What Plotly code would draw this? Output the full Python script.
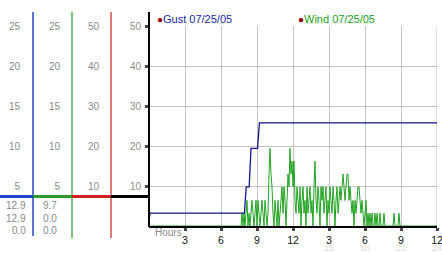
import plotly.graph_objects as go

# ---------------- data ----------------
gust_hours = [0.0, 0.1, 7.95, 8.1, 8.35, 8.5, 9.05, 9.2, 24.0]
gust_mph = [0.8, 1.6, 1.6, 4.9, 4.9, 9.7, 9.7, 12.9, 12.9]

# wind, 5-minute samples over the day (mph)
wind_mph = (
    [0.0] * 92 +
    [0.0, 1.6, 0.0, 1.6, 0.0, 1.6, 3.2, 0.0, 1.6, 0.0,
     1.6, 3.2, 1.6, 0.0, 1.6, 3.2, 0.0, 3.2, 1.6, 0.0,
     1.6, 3.2, 1.6, 0.0, 3.2, 1.6, 0.0, 1.6, 6.5, 9.7,
     6.5, 4.9, 1.6, 0.0, 3.2, 1.6, 0.0, 3.2, 0.0, 1.6,
     3.2, 4.9, 1.6, 4.9, 3.2, 0.0, 3.2, 6.5, 4.9, 9.7,
     6.5, 8.1, 4.9, 8.1, 3.2, 1.6, 4.9, 3.2, 1.6, 4.9,
     0.0, 3.2, 4.9, 1.6, 3.2, 0.0, 4.9, 1.6, 3.2, 4.9,
     1.6, 3.2, 0.0, 4.9, 8.1, 3.2, 1.6, 4.9, 3.2, 0.0,
     4.9, 3.2, 4.9, 1.6, 3.2, 4.9, 0.0, 3.2, 1.6, 4.9,
     3.2, 1.6, 4.9, 3.2, 0.0, 3.2, 4.9, 1.6, 3.2, 4.9,
     3.2, 4.9, 6.5, 4.9, 3.2, 4.9, 6.5, 6.5, 3.2, 4.9,
     3.2, 1.6, 3.2, 0.0, 3.2, 1.6, 3.2, 4.9, 4.9, 3.2,
     1.6, 3.2, 1.6, 0.0, 1.6, 3.2, 0.0, 1.6, 0.0, 1.6,
     0.0, 1.6, 0.0, 0.0, 1.6, 0.0, 1.6, 0.0, 0.0, 1.6,
     0.0, 0.0, 0.0, 1.6, 0.0, 0.0, 0.0, 0.0, 0.0, 0.0,
     0.0, 0.0, 0.0, 1.6, 0.0, 0.0, 0.0, 0.0, 1.6, 0.0] +
    [0.0] * 37
)
wind_hours = [i / 12 for i in range(len(wind_mph))]

hour_ticks = [3, 6, 9, 12, 15, 18, 21, 24]
hour_labels = ["3", "6", "9", "12", "3", "6", "9", "12"]
pm_ticks = [15, 18, 21, 24]
pm_labels = ["15", "18", "21", "24"]

mph_ticks = [5, 10, 15, 20, 25]
dbl_ticks = [10, 20, 30, 40, 50]

gust_stats = ["12.9", "12.9", "0.0"]
wind_stats = ["9.7", "0.0", "0.0"]

gust_label = "Gust 07/25/05"
wind_label = "Wind 07/25/05"

# ---------------- geometry helpers ----------------
W, H = 442, 253
ML, MR, MT, MB = 0, 5, 26, 27
PW = W - ML - MR          # paper width in px
PH = H - MT - MB          # paper height in px
X0 = 149                  # left edge of data area (px)
Y0 = H - MB               # bottom of data area (px)


def px(xp):
    return (xp - ML) / PW


def py(yp):
    return (Y0 - yp) / PH


GRID = "#c4c4c4"
LABEL = "#8a8a8a"
FONT = "Liberation Sans, Arial, sans-serif"

fig = go.Figure()

fig.add_trace(go.Scatter(x=wind_hours, y=wind_mph, mode="lines",
                         line=dict(color="#22a322", width=1, simplify=False),
                         showlegend=False, hoverinfo="skip"))
fig.add_trace(go.Scatter(x=gust_hours, y=gust_mph, mode="lines",
                         line=dict(color="#14148c", width=1.3),
                         showlegend=False, hoverinfo="skip"))

# invisible traces so the extra axes get drawn
for ya in ["y2", "y3", "y4", "y5"]:
    fig.add_trace(go.Scatter(x=[None], y=[None], yaxis=ya, showlegend=False,
                             hoverinfo="skip"))
fig.add_trace(go.Scatter(x=[None], y=[None], xaxis="x2", showlegend=False,
                         hoverinfo="skip"))

side_axis = dict(overlaying="y", anchor="free", side="left", showgrid=False,
                 zeroline=False, showline=False, ticks="",
                 tickfont=dict(family=FONT, size=10, color=LABEL),
                 fixedrange=True, automargin=False)

fig.update_layout(
    width=W, height=H,
    margin=dict(l=ML, r=MR, t=MT, b=MB, autoexpand=False),
    paper_bgcolor="white", plot_bgcolor="white",
    font=dict(family=FONT, size=10, color=LABEL),
    showlegend=False,
    xaxis=dict(domain=[px(X0), 1], range=[0, 24], tickvals=hour_ticks,
               ticktext=hour_labels, ticks="outside", ticklen=3, tickwidth=3,
               tickcolor="#4a4a4a", tickfont=dict(family=FONT, size=10.5,
                                                  color="#111111"),
               showgrid=True, gridcolor=GRID, gridwidth=1,
               showline=True, linecolor="#000000", linewidth=2,
               zeroline=False, ticklabelstandoff=0,
               ticklabeloverflow="allow", automargin=False),
    xaxis2=dict(overlaying="x", anchor="y", side="bottom", range=[0, 24],
                tickvals=pm_ticks, ticktext=pm_labels, ticks="",
                showgrid=False, zeroline=False, showline=False,
                tickfont=dict(family=FONT, size=9, color="#dcdcdc"),
                ticklabelstandoff=15, ticklabeloverflow="allow",
                automargin=False),
    yaxis=dict(domain=[0, 1], range=[0, 25], tickvals=mph_ticks,
               showticklabels=False, ticks="", showgrid=True,
               gridcolor=GRID, gridwidth=1, zeroline=False, showline=False,
               automargin=False),
    yaxis2=dict(side_axis, position=px(X0), range=[0, 50],
                tickvals=dbl_ticks, ticks="outside", ticklen=4, tickwidth=3,
                tickcolor="#4a4a4a", ticklabelstandoff=2),
    yaxis3=dict(side_axis, position=px(33), range=[0, 25],
                tickvals=mph_ticks, ticklabelstandoff=13),
    yaxis4=dict(side_axis, position=px(72), range=[0, 25],
                tickvals=mph_ticks, ticklabelstandoff=12),
    yaxis5=dict(side_axis, position=px(111), range=[0, 50],
                tickvals=dbl_ticks, ticklabelstandoff=12),
)

shapes = []
# grid line at the right end of the hour axis
shapes.append(dict(type="line", xref="x", yref="y", x0=24, x1=24,
                   y0=0, y1=25, line=dict(color=GRID, width=1), layer="below"))
# vertical column rules
for xp, col, ybot, wd in [(33, "#1f43c8", 236, 1.5), (72, "#2a9a2a", 238, 1.2),
                          (111, "#c82424", 238, 1.2), (X0, "#000000", 227, 2)]:
    shapes.append(dict(type="line", xref="paper", yref="paper",
                       x0=px(xp), x1=px(xp), y0=py(12), y1=py(ybot),
                       line=dict(color=col, width=wd)))
# horizontal coloured rule
for xa, xb, col in [(0, 33, "#1f43c8"), (33, 72, "#2a9a2a"),
                    (72, 111, "#d02020"), (111, X0, "#000000")]:
    shapes.append(dict(type="line", xref="paper", yref="paper",
                       x0=px(xa), x1=px(xb), y0=py(196.5), y1=py(196.5),
                       line=dict(color=col, width=3)))
fig.update_layout(shapes=shapes)

ann = []
for i, (g, w) in enumerate(zip(gust_stats, wind_stats)):
    yy = 205 + 13 * i
    ann.append(dict(xref="paper", yref="paper", x=px(28), y=py(yy),
                    xanchor="right", yanchor="middle", text=g,
                    showarrow=False, font=dict(size=10, color=LABEL)))
    ann.append(dict(xref="paper", yref="paper", x=px(59), y=py(yy),
                    xanchor="right", yanchor="middle", text=w,
                    showarrow=False, font=dict(size=10, color=LABEL)))
ann.append(dict(xref="paper", yref="paper", x=px(153), y=py(232),
                xanchor="left", yanchor="middle", text="Hours",
                showarrow=False, font=dict(size=10, color=LABEL)))
ann.append(dict(xref="paper", yref="paper", x=px(155), y=py(19),
                xanchor="left", yanchor="middle",
                text="<span style='color:#990000;font-size:10px'>●</span>"
                     "<span style='color:#1a2aa8'>" + gust_label + "</span>",
                showarrow=False, font=dict(size=11)))
ann.append(dict(xref="paper", yref="paper", x=px(296), y=py(19),
                xanchor="left", yanchor="middle",
                text="<span style='color:#990000;font-size:10px'>●</span>"
                     "<span style='color:#22a322'>" + wind_label + "</span>",
                showarrow=False, font=dict(size=11)))
fig.update_layout(annotations=ann)

fig.write_html("out.html")
